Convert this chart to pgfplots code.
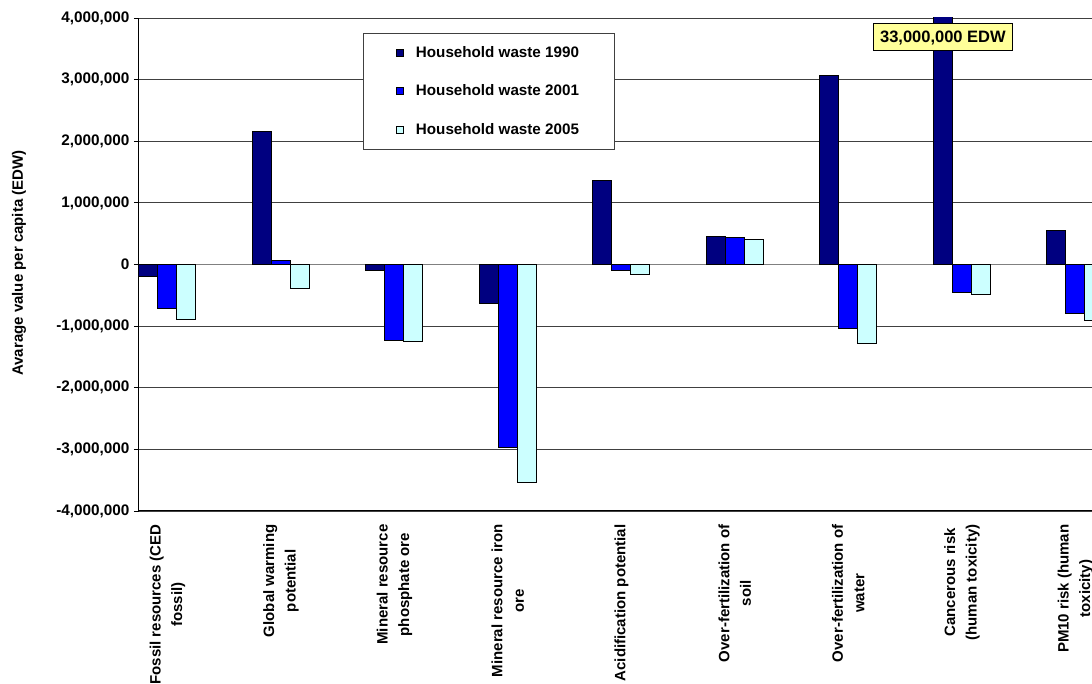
\documentclass[border=0pt]{standalone}
\usepackage{fontspec}
\setmainfont{Liberation Sans}
\usepackage{pgfplots}
\pgfplotsset{compat=1.18}
\definecolor{c1990}{HTML}{000080}
\definecolor{c2001}{HTML}{0000FF}
\definecolor{c2005}{HTML}{CCFFFF}
\definecolor{annot}{HTML}{FFFF99}
\definecolor{gridc}{HTML}{404040}
\begin{document}
\begin{tikzpicture}
\begin{axis}[
  scale only axis,
  width=953pt, height=493pt,
  xmin=-0.25, xmax=8.1465,
  ymin=-4000000, ymax=4000000,
  ytick={-4000000,-3000000,-2000000,-1000000,0,1000000,2000000,3000000,4000000},
  yticklabels={{-4,000,000},{-3,000,000},{-2,000,000},{-1,000,000},{0},{1,000,000},{2,000,000},{3,000,000},{4,000,000}},
  scaled y ticks=false,
  axis lines*=left,
  axis line style={-, black, line width=1pt},
  xtick={0,1,2,3,4,5,6,7,8},
  xticklabels={{Fossil resources (CED\\fossil)},{Global warming\\potential},{Mineral resource\\phosphate ore},{Mineral resource iron\\ore},{Acidification potential},{Over-fertilization of\\soil},{Over-fertilization of\\water},{Cancerous risk\\(human toxicity)},{PM10 risk (human\\toxicity)}},
  xtick style={draw=none},
  ytick style={black, line width=0.8pt},
  tick align=outside,
  major tick length=5pt,
  xticklabel style={rotate=90, anchor=east, align=center, xshift=-5pt, font=\bfseries\fontsize{15}{21.5}\selectfont},
  yticklabel style={font=\bfseries\fontsize{15.3}{18}\selectfont, xshift=-1pt},
  ymajorgrids,
  major grid style={gridc, line width=0.9pt},
  extra y ticks={0},
  extra y tick labels={},
  extra y tick style={major tick length=0pt, grid=major, major grid style={black!50, line width=1.4pt}},
  ylabel={Avarage value per capita (EDW)},
  ylabel style={at={(axis description cs:-0.126,0.503)}, anchor=center, font=\bfseries\fontsize{15}{18}\selectfont},
  ybar=0pt,
  bar width=19pt,
  legend style={at={(0.235,0.9696)}, anchor=north west, draw=black!75, line width=0.8pt,
    inner xsep=33pt, inner ysep=11pt, row sep=22pt, column sep=10pt,
    font=\bfseries\fontsize{15.2}{18}\selectfont},
  legend cell align=left,
  legend image code/.code={\draw[#1, line width=0.6pt] (0pt,-3.5pt) rectangle (7pt,3.5pt);},
]
\addplot[draw=black, line width=0.8pt, fill=c1990] coordinates {
  (0,-195000) (1,2155000) (2,-103000) (3,-633000) (4,1367000) (5,459000) (6,3063000) (7,33000000) (8,551000)};
\addplot[draw=black, line width=0.8pt, fill=c2001] coordinates {
  (0,-714000) (1,60000) (2,-1239000) (3,-2975000) (4,-92000) (5,432000) (6,-1042000) (7,-454000) (8,-800000)};
\addplot[draw=black, line width=0.8pt, fill=c2005] coordinates {
  (0,-898000) (1,-383000) (2,-1240000) (3,-3539000) (4,-168000) (5,400000) (6,-1286000) (7,-491000) (8,-908000)};
\legend{Household waste 1990,Household waste 2001,Household waste 2005}
\node[fill=annot, draw=black, line width=0.8pt, inner xsep=7pt, inner ysep=7.5pt, text height=11.5pt, text depth=0pt,
  font=\bfseries\fontsize{16.5}{18}\selectfont] at (axis cs:6.833,3692000) {33,000,000 EDW};
\coordinate (sw) at (rel axis cs:0,0);
\coordinate (ne) at (rel axis cs:1,1);
\end{axis}
\pgfresetboundingbox
\path[use as bounding box] ([xshift=-139pt,yshift=-173pt]sw) rectangle ([yshift=18pt]ne);
\end{tikzpicture}
\end{document}
